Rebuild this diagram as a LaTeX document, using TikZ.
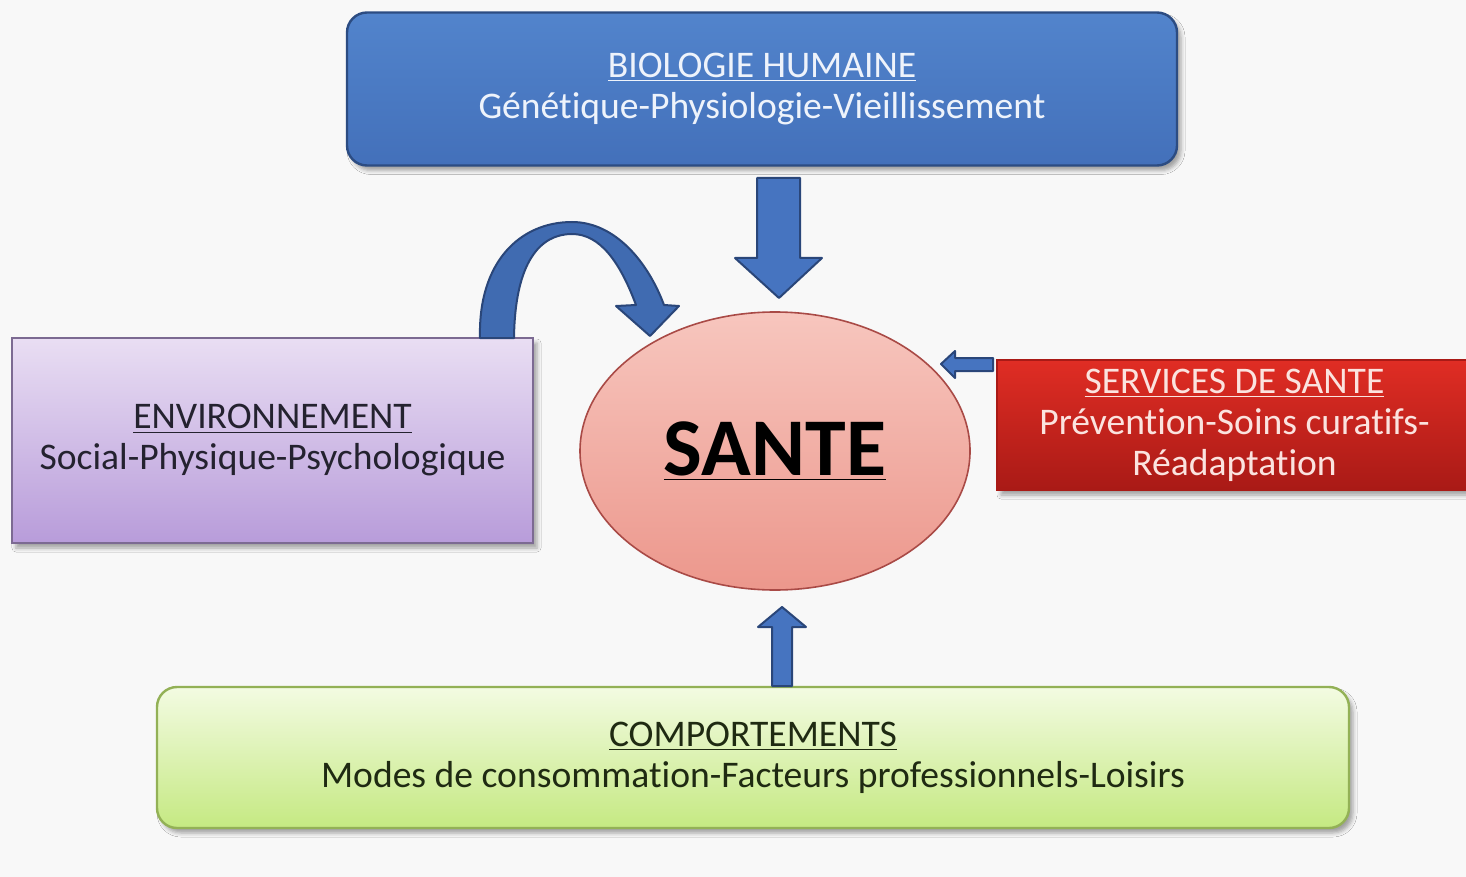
\documentclass[tikz,border=0pt]{standalone}
\usepackage{fontspec}
\setmainfont{Carlito}[Ligatures=NoCommon]
\usetikzlibrary{shapes.geometric,shadows.blur}
\definecolor{bgc}{HTML}{F8F8F8}
\definecolor{bioTop}{HTML}{5284CC}
\definecolor{bioBot}{HTML}{4370BA}
\definecolor{bioLine}{HTML}{2C4C82}
\definecolor{bioText}{HTML}{EEF3FB}
\definecolor{envTop}{HTML}{E9DEF3}
\definecolor{envBot}{HTML}{B89CDA}
\definecolor{envLine}{HTML}{7C6A92}
\definecolor{envText}{HTML}{24222F}
\definecolor{sanTop}{HTML}{F7C6BE}
\definecolor{sanBot}{HTML}{EC978C}
\definecolor{sanLine}{HTML}{A94A46}
\definecolor{serTop}{HTML}{E02D24}
\definecolor{serBot}{HTML}{A91A16}
\definecolor{serText}{HTML}{FBE3DF}
\definecolor{comTop}{HTML}{F3FBE2}
\definecolor{comBot}{HTML}{C5E982}
\definecolor{comLine}{HTML}{93B156}
\definecolor{comText}{HTML}{1F2A12}
\definecolor{arrFill}{HTML}{4674C0}
\definecolor{arrLine}{HTML}{2A4679}
\tikzset{
  box/.style={draw, line width=1.2pt, inner sep=0pt, align=center,
    font=\fontsize{18.8}{20.5}\selectfont,
    blur shadow={shadow xshift=2pt, shadow yshift=-2.5pt, shadow blur radius=2pt, shadow opacity=35}},
  blockarrow/.style={fill=arrFill, draw=arrLine, line width=1pt, line join=round},
}
\begin{document}
\begin{tikzpicture}[x=0.5pt, y=-0.5pt]
  % canvas in pixel units, y pointing down
  \fill[bgc] (0,0) rectangle (1466,877);
  \useasboundingbox (0,0) rectangle (1466,877);

  % factor boxes
  \node[box, rounded corners=10pt, top color=bioTop, bottom color=bioBot, draw=bioLine,
        text=bioText, minimum width=415pt, minimum height=76.5pt]
    (bio) at (762,89) {\underline{BIOLOGIE HUMAINE}\\Génétique-Physiologie-Vieillissement};

  \node[box, top color=envTop, bottom color=envBot, draw=envLine, line width=0.8pt,
        text=envText, minimum width=260.5pt, minimum height=102.5pt]
    (env) at (272.5,440.5) {\underline{ENVIRONNEMENT}\\Social-Physique-Psychologique};

  \node[box, top color=serTop, bottom color=serBot, draw=serBot, line width=0.6pt,
        text=serText, minimum width=237.5pt, minimum height=65pt]
    (ser) at (1234.5,425) {\underline{SERVICES DE SANTE}\\Prévention-Soins curatifs-\\Réadaptation};

  \node[box, rounded corners=10pt, top color=comTop, bottom color=comBot, draw=comLine,
        text=comText, minimum width=596pt, minimum height=70.5pt]
    (com) at (753,757.5) {\underline{COMPORTEMENTS}\\Modes de consommation-Facteurs professionnels-Loisirs};

  % central ellipse
  \node[ellipse, draw=sanLine, line width=0.8pt, inner sep=0pt,
        top color=sanTop, bottom color=sanBot,
        minimum width=195pt, minimum height=139pt,
        font=\fontsize{41}{45}\bfseries\selectfont, text=black]
    (sante) at (775,451) {\underline{SANTE}};

  % block arrow: biologie -> sante
  \draw[blockarrow] (757,178) -- (800,178) -- (800,258) -- (822,258) -- (779,298)
    -- (735,258) -- (757,258) -- cycle;

  % block arrow: services -> sante
  \draw[blockarrow] (993,358) -- (993,371) -- (955,371) -- (955,378) -- (941,364)
    -- (955,351) -- (955,358) -- cycle;

  % block arrow: comportements -> sante
  \draw[blockarrow] (772,686) -- (772,627) -- (758,627) -- (782,607) -- (806,627)
    -- (792,627) -- (792,686) -- cycle;

  % curved block arrow: environnement -> sante
  \draw[blockarrow, fill=arrFill!92!black]
    (480,338) .. controls (478,262) and (520,222) .. (572,222)
    .. controls (615,222) and (648,262) .. (664,305)
    -- (679,306) -- (650,336) -- (616,306) -- (636,305)
    .. controls (620,262) and (600,234) .. (572,234)
    .. controls (540,234) and (515,262) .. (514,338) -- cycle;
\end{tikzpicture}
\end{document}
